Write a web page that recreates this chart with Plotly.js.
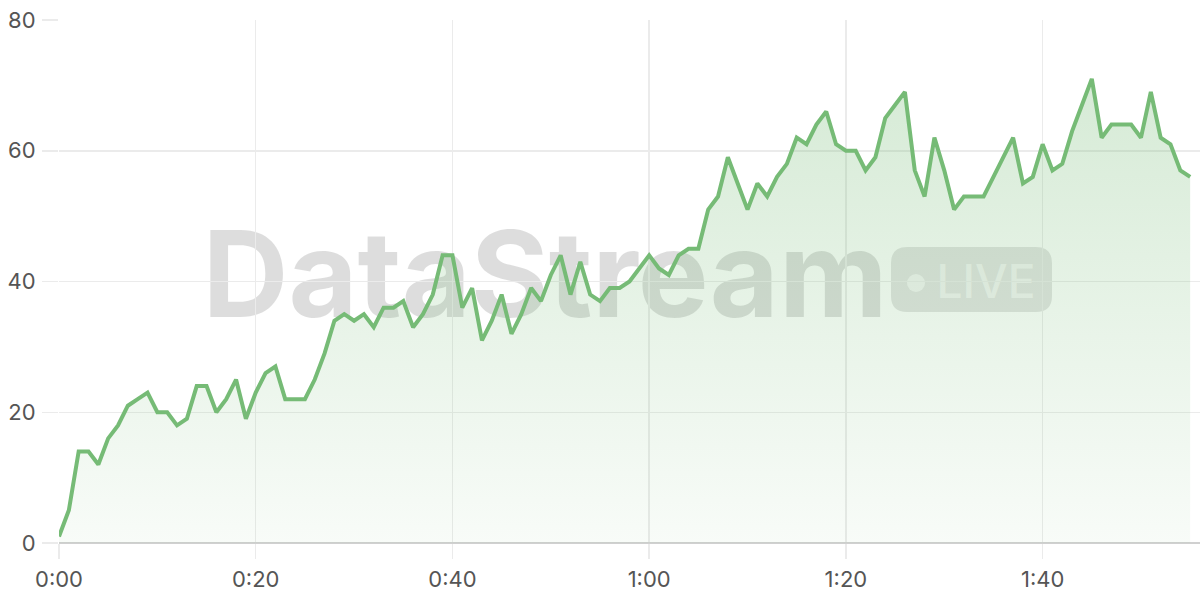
<!DOCTYPE html>
<html>
<head>
<meta charset="utf-8">
<script src="https://cdn.plot.ly/plotly-3.0.1.min.js"></script>
<style>
  html, body { margin: 0; padding: 0; background: #fff; }
  #chart { width: 1200px; height: 600px; }
</style>
</head>
<body>
<div id="chart"></div>
<script>
// Elapsed time in seconds
const seconds = [
  0,1,2,3,4,5,6,7,8,9,10,11,12,13,14,15,16,17,18,19,
  20,21,22,23,24,25,26,27,28,29,30,31,32,33,34,35,36,37,38,39,
  40,41,42,43,44,45,46,47,48,49,50,51,52,53,54,55,56,57,58,59,
  60,61,62,63,64,65,66,67,68,69,70,71,72,73,74,75,76,77,78,79,
  80,81,82,83,84,85,86,87,88,89,90,91,92,93,94,95,96,97,98,99,
  100,101,102,103,104,105,106,107,108,109,110,111,112,113,114,115
];
const values = [
  1,5,14,14,12,16,18,21,22,23,20,20,18,19,24,24,20,22,25,19,
  23,26,27,22,22,22,25,29,34,35,34,35,33,36,36,37,33,35,38,44,
  44,36,39,31,34,38,32,35,39,37,41,44,38,43,38,37,39,39,40,42,
  44,42,41,44,45,45,51,53,59,55,51,55,53,56,58,62,61,64,66,61,
  60,60,57,59,65,67,69,57,53,62,57,51,53,53,53,56,59,62,55,56,
  61,57,58,63,67,71,62,64,64,64,62,69,62,61,57,56
];
const xTickVals = [0, 20, 40, 60, 80, 100];
const xTickText = ["0:00", "0:20", "0:40", "1:00", "1:20", "1:40"];
const yTickVals = [0, 20, 40, 60, 80];
const watermarkText = "DataStream";
const badgeText = "LIVE";

const W = 1200, H = 600;
const M = {l: 59, r: 0, t: 20, b: 57};
const PW = W - M.l - M.r, PH = H - M.t - M.b;
const px = x => (x - M.l) / PW;
const py = y => (H - M.b - y) / PH;

function roundRectPath(x0, y0, x1, y1, r) {
  const rx = r / PW, ry = r / PH;
  const X0 = px(x0), X1 = px(x1), Y0 = py(y1), Y1 = py(y0);
  return `M ${X0+rx},${Y0} L ${X1-rx},${Y0} Q ${X1},${Y0} ${X1},${Y0+ry} ` +
         `L ${X1},${Y1-ry} Q ${X1},${Y1} ${X1-rx},${Y1} L ${X0+rx},${Y1} ` +
         `Q ${X0},${Y1} ${X0},${Y1-ry} L ${X0},${Y0+ry} Q ${X0},${Y0} ${X0+rx},${Y0} Z`;
}

const green = 'rgb(118,187,118)';

const trace = {
  x: seconds,
  y: values,
  type: 'scatter',
  mode: 'lines',
  line: {color: green, width: 4},
  fill: 'tozeroy',
  fillgradient: {
    type: 'vertical',
    colorscale: [[0, 'rgba(118,187,118,0.05)'], [1, 'rgba(118,187,118,0.30)']]
  },
  hoverinfo: 'skip'
};

const tickFont = {family: 'Inter, "Noto Sans", sans-serif', size: 22, color: '#555'};

const layout = {
  width: W, height: H,
  margin: M,
  paper_bgcolor: '#fff',
  plot_bgcolor: '#fff',
  showlegend: false,
  xaxis: {
    range: [0, 116],
    tickvals: xTickVals,
    ticktext: xTickText,
    showgrid: true,
    gridcolor: '#ebebeb',
    gridwidth: 1.5,
    zeroline: false,
    showline: false,
    ticks: 'outside',
    ticklen: 15,
    tickcolor: '#ebebeb',
    tickwidth: 1.5,
    ticklabelstandoff: 2,
    tickfont: tickFont,
    fixedrange: true
  },
  yaxis: {
    range: [0, 80],
    tickvals: yTickVals,
    showgrid: true,
    gridcolor: '#ebebeb',
    gridwidth: 1.5,
    zeroline: true,
    zerolinecolor: '#d0d0d0',
    zerolinewidth: 2,
    showline: false,
    ticks: 'outside',
    ticklen: 16,
    tickcolor: '#ebebeb',
    tickwidth: 1.5,
    ticklabelstandoff: 2,
    tickfont: tickFont,
    fixedrange: true
  },
  shapes: [
    {
      type: 'rect', xref: 'paper', yref: 'paper', layer: 'between',
      x0: px(200), x1: px(890), y0: py(330), y1: py(210),
      fillcolor: 'rgba(0,0,0,0)', line: {width: 0},
      label: {
        text: watermarkText, textposition: 'middle center',
        font: {family: 'Inter, "Liberation Sans", sans-serif', size: 119, color: 'rgba(0,0,0,0.135)', weight: 700}
      }
    },
    {
      type: 'path', xref: 'paper', yref: 'paper', layer: 'between',
      path: roundRectPath(891, 247, 1052, 312, 16),
      fillcolor: 'rgba(0,0,0,0.11)', line: {width: 0}
    },
    {
      type: 'circle', xref: 'paper', yref: 'paper', layer: 'between',
      x0: px(907), x1: px(925), y0: py(292), y1: py(274),
      fillcolor: 'rgba(255,255,255,0.6)', line: {width: 0}
    },
    {
      type: 'rect', xref: 'paper', yref: 'paper', layer: 'between',
      x0: px(936), x1: px(1036), y0: py(300), y1: py(260),
      fillcolor: 'rgba(0,0,0,0)', line: {width: 0},
      label: {
        text: badgeText, textposition: 'middle center',
        font: {family: 'Inter, "Liberation Sans", sans-serif', size: 46, color: 'rgba(255,255,255,0.6)', weight: 500}
      }
    }
  ]
};

Plotly.newPlot('chart', [trace], layout, {displayModeBar: false, staticPlot: true});
</script>
</body>
</html>
